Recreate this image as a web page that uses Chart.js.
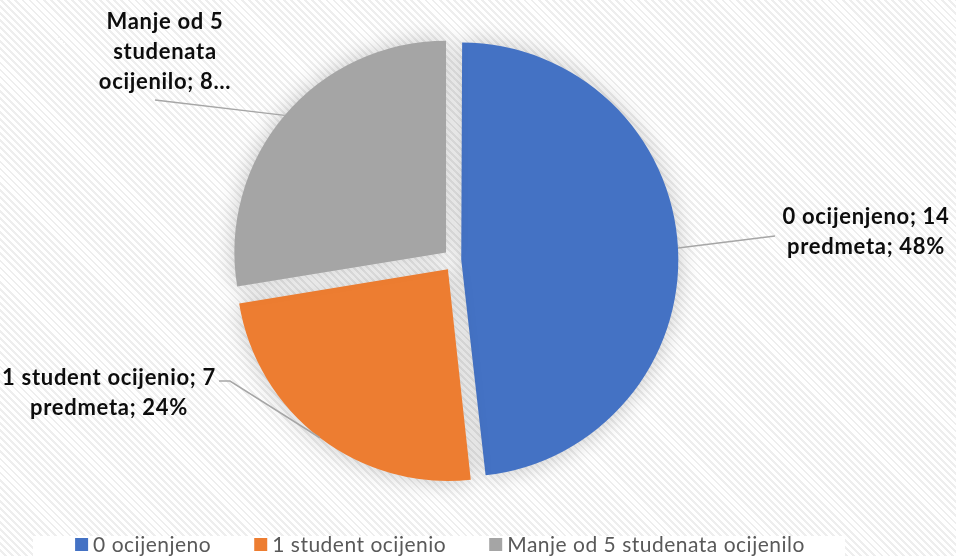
<!DOCTYPE html>
<html>
<head>
<meta charset="utf-8">
<script src="https://cdn.jsdelivr.net/npm/chart.js@4.4.1/dist/chart.umd.min.js"></script>
<style>
html, body { margin: 0; padding: 0; }
body {
    width: 956px; height: 556px; overflow: hidden;
    background: repeating-linear-gradient(45deg, #ffffff 0px, #ffffff 3px, #eeeeee 3px, #eeeeee 5px);
}
canvas { display: block; }
</style>
</head>
<body>
<canvas id="myChart" width="956" height="556"></canvas>
<script>
const categories = ['0 ocijenjeno', '1 student ocijenio', 'Manje od 5 studenata ocijenilo'];
const counts = [14, 7, 8];
const unitName = 'predmeta';
const sliceColors = ['#4472C4', '#ED7D31', '#A5A5A5'];

// where each data label sits, and the path its leader line takes to it
const labelSpots = [
    { cx: 866, top: 217, maxW: 190, maxLines: 2, path: [[775, 236]] },
    { cx: 109, top: 378, maxW: 240, maxLines: 2, path: [[230, 381], [219, 381]] },
    { cx: 165, top: 22, maxW: 165, maxLines: 3, path: [[155, 100]] }
];

const labelFont = 'bold 22px Lato';
const legendFont = '21px Lato';

function wrapText(ctx, text, maxW, maxLines) {
    const words = text.split(' ');
    const lines = [];
    let cur = '';
    words.forEach(w => {
        const test = cur ? cur + ' ' + w : w;
        if (ctx.measureText(test).width > maxW && cur) {
            lines.push(cur);
            cur = w;
        } else {
            cur = test;
        }
    });
    if (cur) lines.push(cur);
    if (lines.length > maxLines) {
        const cut = lines.slice(0, maxLines);
        cut[maxLines - 1] = cut[maxLines - 1] + '\u2026';
        return cut;
    }
    return lines;
}

const shadowPlugin = {
    id: 'sliceShadow',
    beforeDatasetsDraw(chart) {
        const ctx = chart.ctx;
        ctx.save();
        ctx.shadowColor = 'rgba(0,0,0,0.22)';
        ctx.shadowBlur = 22;
    },
    afterDatasetsDraw(chart) {
        chart.ctx.restore();
    }
};

const labelPlugin = {
    id: 'sliceLabels',
    afterDraw(chart) {
        const ctx = chart.ctx;
        const meta = chart.getDatasetMeta(0);
        const total = counts.reduce((a, b) => a + b, 0);

        meta.data.forEach((arc, i) => {
            const p = arc.getProps(['x', 'y', 'startAngle', 'endAngle', 'outerRadius', 'circumference']);
            const off = (arc.options.offset || 0) / 4;
            const mid = (p.startAngle + p.endAngle) / 2;
            const fix = 1 - Math.sin(Math.min(Math.PI, p.circumference));
            const shift = off + off * fix;
            const ax = p.x + Math.cos(mid) * shift;
            const ay = p.y + Math.sin(mid) * shift;
            const ex = ax + Math.cos(mid) * p.outerRadius;
            const ey = ay + Math.sin(mid) * p.outerRadius;

            const spot = labelSpots[i];
            ctx.save();
            ctx.strokeStyle = '#a6a6a6';
            ctx.lineWidth = 1.5;
            ctx.beginPath();
            ctx.moveTo(ex, ey);
            spot.path.forEach(pt => ctx.lineTo(pt[0], pt[1]));
            ctx.stroke();

            const pct = Math.round(counts[i] / total * 100);
            const text = categories[i] + '; ' + counts[i] + ' ' + unitName + '; ' + pct + '%';
            ctx.font = labelFont;
            ctx.letterSpacing = '0.7px';
            ctx.fillStyle = '#0d0d0d';
            ctx.textAlign = 'center';
            ctx.textBaseline = 'middle';
            const lines = wrapText(ctx, text, spot.maxW, spot.maxLines);
            lines.forEach((ln, k) => ctx.fillText(ln, spot.cx, spot.top + k * 30));
            ctx.restore();
        });

        // legend
        ctx.save();
        ctx.fillStyle = '#ffffff';
        ctx.fillRect(33, 536, 812, 20);
        ctx.font = legendFont;
        ctx.letterSpacing = '0.5px';
        ctx.textBaseline = 'middle';
        ctx.textAlign = 'left';
        const box = 13, gap = 5, itemGap = 43;
        const widths = categories.map(c => box + gap + ctx.measureText(c).width);
        const full = widths.reduce((a, b) => a + b, 0) + itemGap * (categories.length - 1);
        let x = 440 - full / 2;
        const ly = 545;
        categories.forEach((c, i) => {
            ctx.fillStyle = sliceColors[i];
            ctx.fillRect(x, ly - 7, box, box);
            ctx.fillStyle = '#595959';
            ctx.fillText(c, x + box + gap, ly);
            x += widths[i] + itemGap;
        });
        ctx.restore();
    }
};

const ctx = document.getElementById('myChart').getContext('2d');
const myChart = new Chart(ctx, {
    type: 'pie',
    data: {
        labels: categories,
        datasets: [{
            data: counts,
            backgroundColor: sliceColors,
            borderWidth: 0,
            offset: [25, 47, 47],
            hoverOffset: 0
        }]
    },
    options: {
        responsive: false,
        animation: false,
        layout: { padding: { left: 205, right: 251, top: 25, bottom: 61 } },
        plugins: {
            legend: { display: false },
            tooltip: { enabled: false }
        }
    },
    plugins: [shadowPlugin, labelPlugin]
});
</script>
</body>
</html>
